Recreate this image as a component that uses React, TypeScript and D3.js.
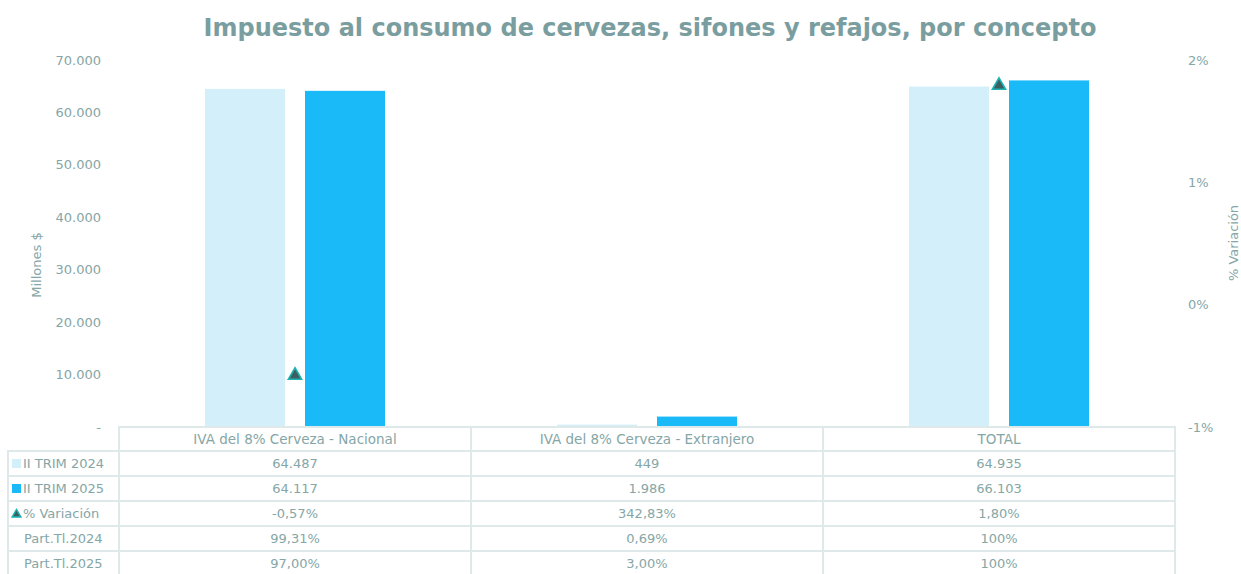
import React from "react";
import * as d3 from "d3";

const categories = ["IVA del 8% Cerveza - Nacional", "IVA del 8% Cerveza - Extranjero", "TOTAL"];
const series = ["II TRIM 2024", "II TRIM 2025"];
const trim2024 = [64487, 449, 64935];
const trim2025 = [64117, 1986, 66103];
const variacion = [-0.0057, 3.4283, 0.018];
const part2024 = [0.9931, 0.0069, 1];
const part2025 = [0.97, 0.03, 1];
const leftTicks = [0, 10000, 20000, 30000, 40000, 50000, 60000, 70000];
const rightTicks = [-0.01, 0, 0.01, 0.02];

const W = 1241;
const H = 574;
const plot = { left: 119, right: 1175, top: 60, bottom: 427 };
const rowH = 25;
const headerTop = 427;
const headerH = 24;

const textColor = "#85a6a6";
const titleColor = "#7a9e9f";
const gridColor = "#e0e9e9";
const colors = ["#d2effa", "#1ab9f8"];
const font = "DejaVu Sans, Verdana, sans-serif";

const loc = d3.formatLocale({ decimal: ",", thousands: ".", grouping: [3], currency: ["$", ""], minus: "-" });
const fmtNum = loc.format(",.0f");
const fmtPct2 = loc.format(".2%");
const fmtPct0 = loc.format(".0%");
const fmtPart = (v: number) => (v === 1 ? "100%" : fmtPct2(v));

export default function App() {
  const x = d3.scaleBand().domain(categories).range([plot.left, plot.right]).padding(0);
  const bw = x.bandwidth();
  const xs = d3.scaleBand().domain(series).range([bw / 2 - 90, bw / 2 + 90]).paddingInner(0.2);
  const y = d3.scaleLinear().domain([0, 70000]).range([plot.bottom, plot.top]);
  const y2 = d3.scaleLinear().domain([-0.01, 0.02]).range([plot.bottom, plot.top]);
  const tri = d3.symbol(d3.symbolTriangle, 76)();
  const values = [trim2024, trim2025];

  const rows = [
    { label: "II TRIM 2024", icon: "sq0", cells: trim2024.map(fmtNum) },
    { label: "II TRIM 2025", icon: "sq1", cells: trim2025.map(fmtNum) },
    { label: "% Variación", icon: "tri", cells: variacion.map(fmtPct2) },
    { label: "Part.Tl.2024", icon: "", cells: part2024.map(fmtPart) },
    { label: "Part.Tl.2025", icon: "", cells: part2025.map(fmtPart) },
  ];
  const bodyTop = headerTop + headerH;

  return (
    <svg width={W} height={H} style={{ position: "absolute", left: 0, top: 0 }} fontFamily={font}>
      <rect width={W} height={H} fill="#fff" />
      <text x={650} y={36} textAnchor="middle" fontSize={24} fontWeight="bold" fill={titleColor}>
        Impuesto al consumo de cervezas, sifones y refajos, por concepto
      </text>

      {/* left axis */}
      {leftTicks.map((t) => (
        <text key={t} x={101} y={y(t)} dy="0.35em" textAnchor="end" fontSize={13} fill={textColor}>
          {t === 0 ? "-" : fmtNum(t)}
        </text>
      ))}
      <text transform={`translate(41,265) rotate(-90)`} textAnchor="middle" fontSize={13} fill={textColor}>
        Millones $
      </text>

      {/* right axis */}
      {rightTicks.map((t) => (
        <text key={t} x={1188} y={y2(t)} dy="0.35em" textAnchor="start" fontSize={13} fill={textColor}>
          {fmtPct0(t)}
        </text>
      ))}
      <text transform={`translate(1238,243) rotate(-90)`} textAnchor="middle" fontSize={13} fill={textColor}>
        % Variación
      </text>

      {/* bars */}
      {categories.map((c, i) => (
        <g key={c} transform={`translate(${x(c)},0)`}>
          {series.map((s, j) => (
            <rect key={s} x={xs(s)} width={xs.bandwidth()} y={y(values[j][i])} height={y(0) - y(values[j][i])} fill={colors[j]} />
          ))}
        </g>
      ))}

      {/* variation markers (values outside the right axis are clipped) */}
      {categories.map((c, i) =>
        variacion[i] <= 0.02 && variacion[i] >= -0.01 ? (
          <path key={c} d={tri!} transform={`translate(${x(c)! + bw / 2},${y2(variacion[i]) + 1})`} fill="#3e5f60" stroke="#1cb3b3" strokeWidth={1.6} />
        ) : null
      )}

      {/* table */}
      <g stroke={gridColor} strokeWidth={2} fill="none">
        <rect x={plot.left} y={headerTop} width={plot.right - plot.left} height={headerH + rows.length * rowH} />
        <rect x={8} y={bodyTop} width={plot.left - 8} height={rows.length * rowH} />
        {rows.map((r, k) => (
          <line key={k} x1={8} x2={plot.right} y1={bodyTop + k * rowH} y2={bodyTop + k * rowH} />
        ))}
        {categories.map((c, i) => (i > 0 ? <line key={c} x1={x(c)} x2={x(c)} y1={headerTop} y2={H} /> : null))}
      </g>
      {categories.map((c) => (
        <text key={c} x={x(c)! + bw / 2} y={headerTop + headerH / 2} dy="0.35em" textAnchor="middle" fontSize={13.5} fill={textColor}>
          {c}
        </text>
      ))}
      {rows.map((r, k) => {
        const cy = bodyTop + k * rowH + rowH / 2;
        return (
          <g key={r.label}>
            {r.icon === "sq0" || r.icon === "sq1" ? (
              <rect x={12} y={cy - 4.5} width={9} height={9} fill={colors[r.icon === "sq0" ? 0 : 1]} />
            ) : null}
            {r.icon === "tri" ? (
              <path d={d3.symbol(d3.symbolTriangle, 34)()!} transform={`translate(16.5,${cy + 1})`} fill="#3e5f60" stroke="#1cb3b3" strokeWidth={1.4} />
            ) : null}
            <text x={r.icon ? 23 : 24} y={cy} dy="0.35em" fontSize={13} fill={textColor}>
              {r.label}
            </text>
            {r.cells.map((v, i) => (
              <text key={i} x={x(categories[i])! + bw / 2} y={cy} dy="0.35em" textAnchor="middle" fontSize={13} fill={textColor}>
                {v}
              </text>
            ))}
          </g>
        );
      })}
    </svg>
  );
}
